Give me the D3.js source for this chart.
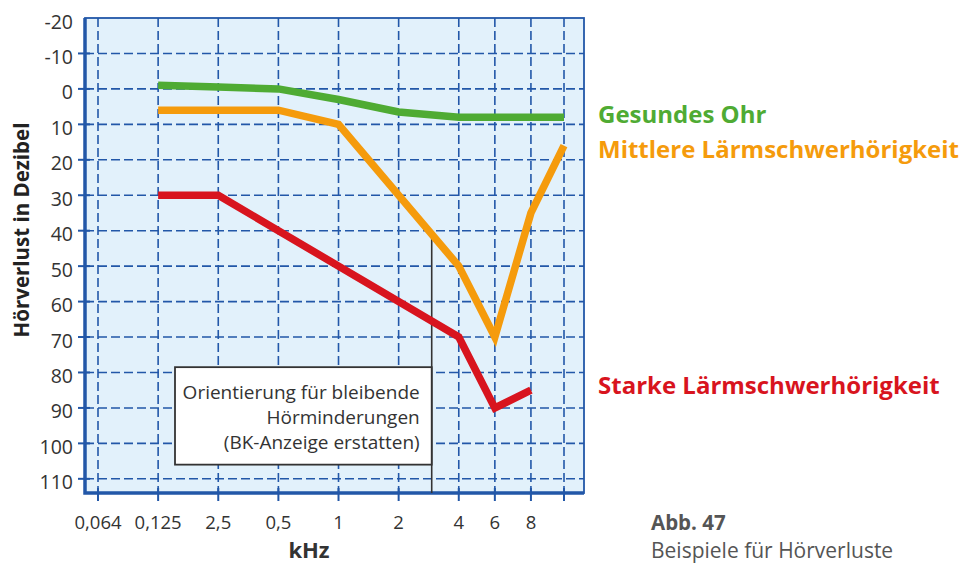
<!DOCTYPE html>
<html>
<head>
<meta charset="utf-8">
<script src="https://cdn.jsdelivr.net/npm/d3@7"></script>
<style>
  body { margin: 0; background: #fff; }
  text { font-family: "Open Sans", sans-serif; }
</style>
</head>
<body>
<div id="chart"></div>
<script>
// frequency ticks (kHz) and their slot on the axis
var xLabels = ["0,064", "0,125", "2,5", "0,5", "1", "2", "4", "6", "8", ""];
var xSlots = [0, 1, 2, 3, 4, 5, 6, 6.6, 7.2, 7.75];

var yTicks = [-20, -10, 0, 10, 20, 30, 40, 50, 60, 70, 80, 90, 100, 110];

// hearing loss in dB per tick (null = no point there)
var gesundesOhr = [null, -1, -0.5, 0, 3, 6.5, 8, 8, 8, 8];
var mittlere = [null, 6, null, 6, 10, null, 50, 70, 35, 16];
var starke = [null, 30, 30, null, null, null, 70, 90, 85, null];

var seriesNames = ["Gesundes Ohr", "Mittlere Lärmschwerhörigkeit", "Starke Lärmschwerhörigkeit"];

var noteLines = ["Orientierung für bleibende", "Hörminderungen", "(BK-Anzeige erstatten)"];
var noteSlot = 5.55;   // ~3 kHz
var noteTop = 40.5;

var width = 962, height = 565;
var plot = { left: 85, right: 584, top: 18, bottom: 493 };

var svg = d3.select("#chart").append("svg")
  .attr("width", width)
  .attr("height", height);

var x = d3.scaleLinear().domain([0, 7.75]).range([98, 564]);
var y = d3.scaleLinear().domain([-20, 114]).range([plot.top, plot.bottom]);

var blue = "#2257a8";

// plot background
svg.append("rect")
  .attr("x", plot.left).attr("y", plot.top)
  .attr("width", plot.right - plot.left)
  .attr("height", plot.bottom - plot.top)
  .attr("fill", "#e2f1fb");

// dashed grid
svg.selectAll(".hgrid")
  .data(yTicks.filter(function(d) { return d > -20; }))
  .enter().append("line")
  .attr("class", "hgrid")
  .attr("x1", plot.left).attr("x2", plot.right)
  .attr("y1", function(d) { return y(d); })
  .attr("y2", function(d) { return y(d); })
  .attr("stroke", blue)
  .attr("stroke-width", 1.6)
  .attr("stroke-dasharray", "9,4");

svg.selectAll(".vgrid")
  .data(xSlots)
  .enter().append("line")
  .attr("class", "vgrid")
  .attr("x1", function(d) { return x(d); })
  .attr("x2", function(d) { return x(d); })
  .attr("y1", plot.top).attr("y2", plot.bottom)
  .attr("stroke", blue)
  .attr("stroke-width", 1.6)
  .attr("stroke-dasharray", "9,4");

// frame: thin top/right, thick left/bottom
svg.append("rect")
  .attr("x", plot.left).attr("y", plot.top)
  .attr("width", plot.right - plot.left)
  .attr("height", plot.bottom - plot.top)
  .attr("fill", "none")
  .attr("stroke", blue)
  .attr("stroke-width", 1.8);

svg.append("path")
  .attr("d", "M" + plot.left + "," + plot.top + "V" + plot.bottom + "H" + plot.right)
  .attr("fill", "none")
  .attr("stroke", blue)
  .attr("stroke-width", 3.5);

// tick marks
svg.selectAll(".ytick")
  .data(yTicks.filter(function(d) { return d > -20; }))
  .enter().append("line")
  .attr("x1", plot.left - 7).attr("x2", plot.left + 5)
  .attr("y1", function(d) { return y(d); })
  .attr("y2", function(d) { return y(d); })
  .attr("stroke", blue)
  .attr("stroke-width", 2);

svg.selectAll(".xtick")
  .data(xSlots)
  .enter().append("line")
  .attr("x1", function(d) { return x(d); })
  .attr("x2", function(d) { return x(d); })
  .attr("y1", plot.bottom - 5).attr("y2", plot.bottom + 8)
  .attr("stroke", blue)
  .attr("stroke-width", 2);

// tick labels
svg.selectAll(".ylabel")
  .data(yTicks)
  .enter().append("text")
  .attr("x", 73)
  .attr("y", function(d) { return y(d) + 3; })
  .attr("text-anchor", "end")
  .attr("dominant-baseline", "central")
  .attr("font-size", 19.5)
  .attr("fill", "#333")
  .text(function(d) { return d; });

svg.selectAll(".xlabel")
  .data(xLabels)
  .enter().append("text")
  .attr("x", function(d, i) { return x(xSlots[i]); })
  .attr("y", 521)
  .attr("text-anchor", "middle")
  .attr("dominant-baseline", "central")
  .attr("font-size", 18.5)
  .attr("fill", "#333")
  .text(function(d) { return d; });

// axis titles
svg.append("text")
  .attr("transform", "translate(21,230) rotate(-90)")
  .attr("text-anchor", "middle")
  .attr("dominant-baseline", "central")
  .attr("font-size", 20.5)
  .attr("font-weight", "bold")
  .attr("fill", "#222")
  .text("Hörverlust in Dezibel");

svg.append("text")
  .attr("x", 309).attr("y", 549)
  .attr("text-anchor", "middle")
  .attr("dominant-baseline", "central")
  .attr("font-size", 22)
  .attr("font-weight", "bold")
  .attr("fill", "#333")
  .text("kHz");

// annotation box + marker line at ~3 kHz
var noteX = x(noteSlot);
svg.append("line")
  .attr("x1", noteX).attr("x2", noteX)
  .attr("y1", y(noteTop)).attr("y2", plot.bottom)
  .attr("stroke", "#333")
  .attr("stroke-width", 1.6);

svg.append("rect")
  .attr("x", 175).attr("y", y(78.5))
  .attr("width", noteX - 175)
  .attr("height", y(106) - y(78.5))
  .attr("fill", "#fff")
  .attr("stroke", "#333")
  .attr("stroke-width", 1.8);

svg.selectAll(".note")
  .data(noteLines)
  .enter().append("text")
  .attr("x", noteX - 12)
  .attr("y", function(d, i) { return 392 + i * 25; })
  .attr("text-anchor", "end")
  .attr("dominant-baseline", "central")
  .attr("font-size", 19)
  .attr("fill", "#333")
  .text(function(d) { return d; });

// curves
var series = [
  { name: seriesNames[0], values: gesundesOhr, color: "#4fab33", labelY: 113 },
  { name: seriesNames[1], values: mittlere, color: "#f59b0c", labelY: 148 },
  { name: seriesNames[2], values: starke, color: "#d8141e", labelY: 384 }
];

var line = d3.line()
  .x(function(d) { return x(d.slot); })
  .y(function(d) { return y(d.value); });

series.forEach(function(s) {
  var pts = [];
  for (var i = 0; i < s.values.length; i++) {
    if (s.values[i] !== null) {
      pts.push({ slot: xSlots[i], value: s.values[i] });
    }
  }
  svg.append("path")
    .datum(pts)
    .attr("d", line)
    .attr("fill", "none")
    .attr("stroke", s.color)
    .attr("stroke-width", 7.5)
    .attr("stroke-linejoin", "miter");

  svg.append("text")
    .attr("x", 598)
    .attr("y", s.labelY)
    .attr("dominant-baseline", "central")
    .attr("font-size", 24)
    .attr("font-weight", "bold")
    .attr("fill", s.color)
    .text(s.name);
});

// caption
svg.append("text")
  .attr("x", 651).attr("y", 522)
  .attr("dominant-baseline", "central")
  .attr("font-size", 20.5)
  .attr("font-weight", "bold")
  .attr("fill", "#555")
  .text("Abb. 47");

svg.append("text")
  .attr("x", 651).attr("y", 550)
  .attr("dominant-baseline", "central")
  .attr("font-size", 21)
  .attr("fill", "#555")
  .text("Beispiele für Hörverluste");
</script>
</body>
</html>
